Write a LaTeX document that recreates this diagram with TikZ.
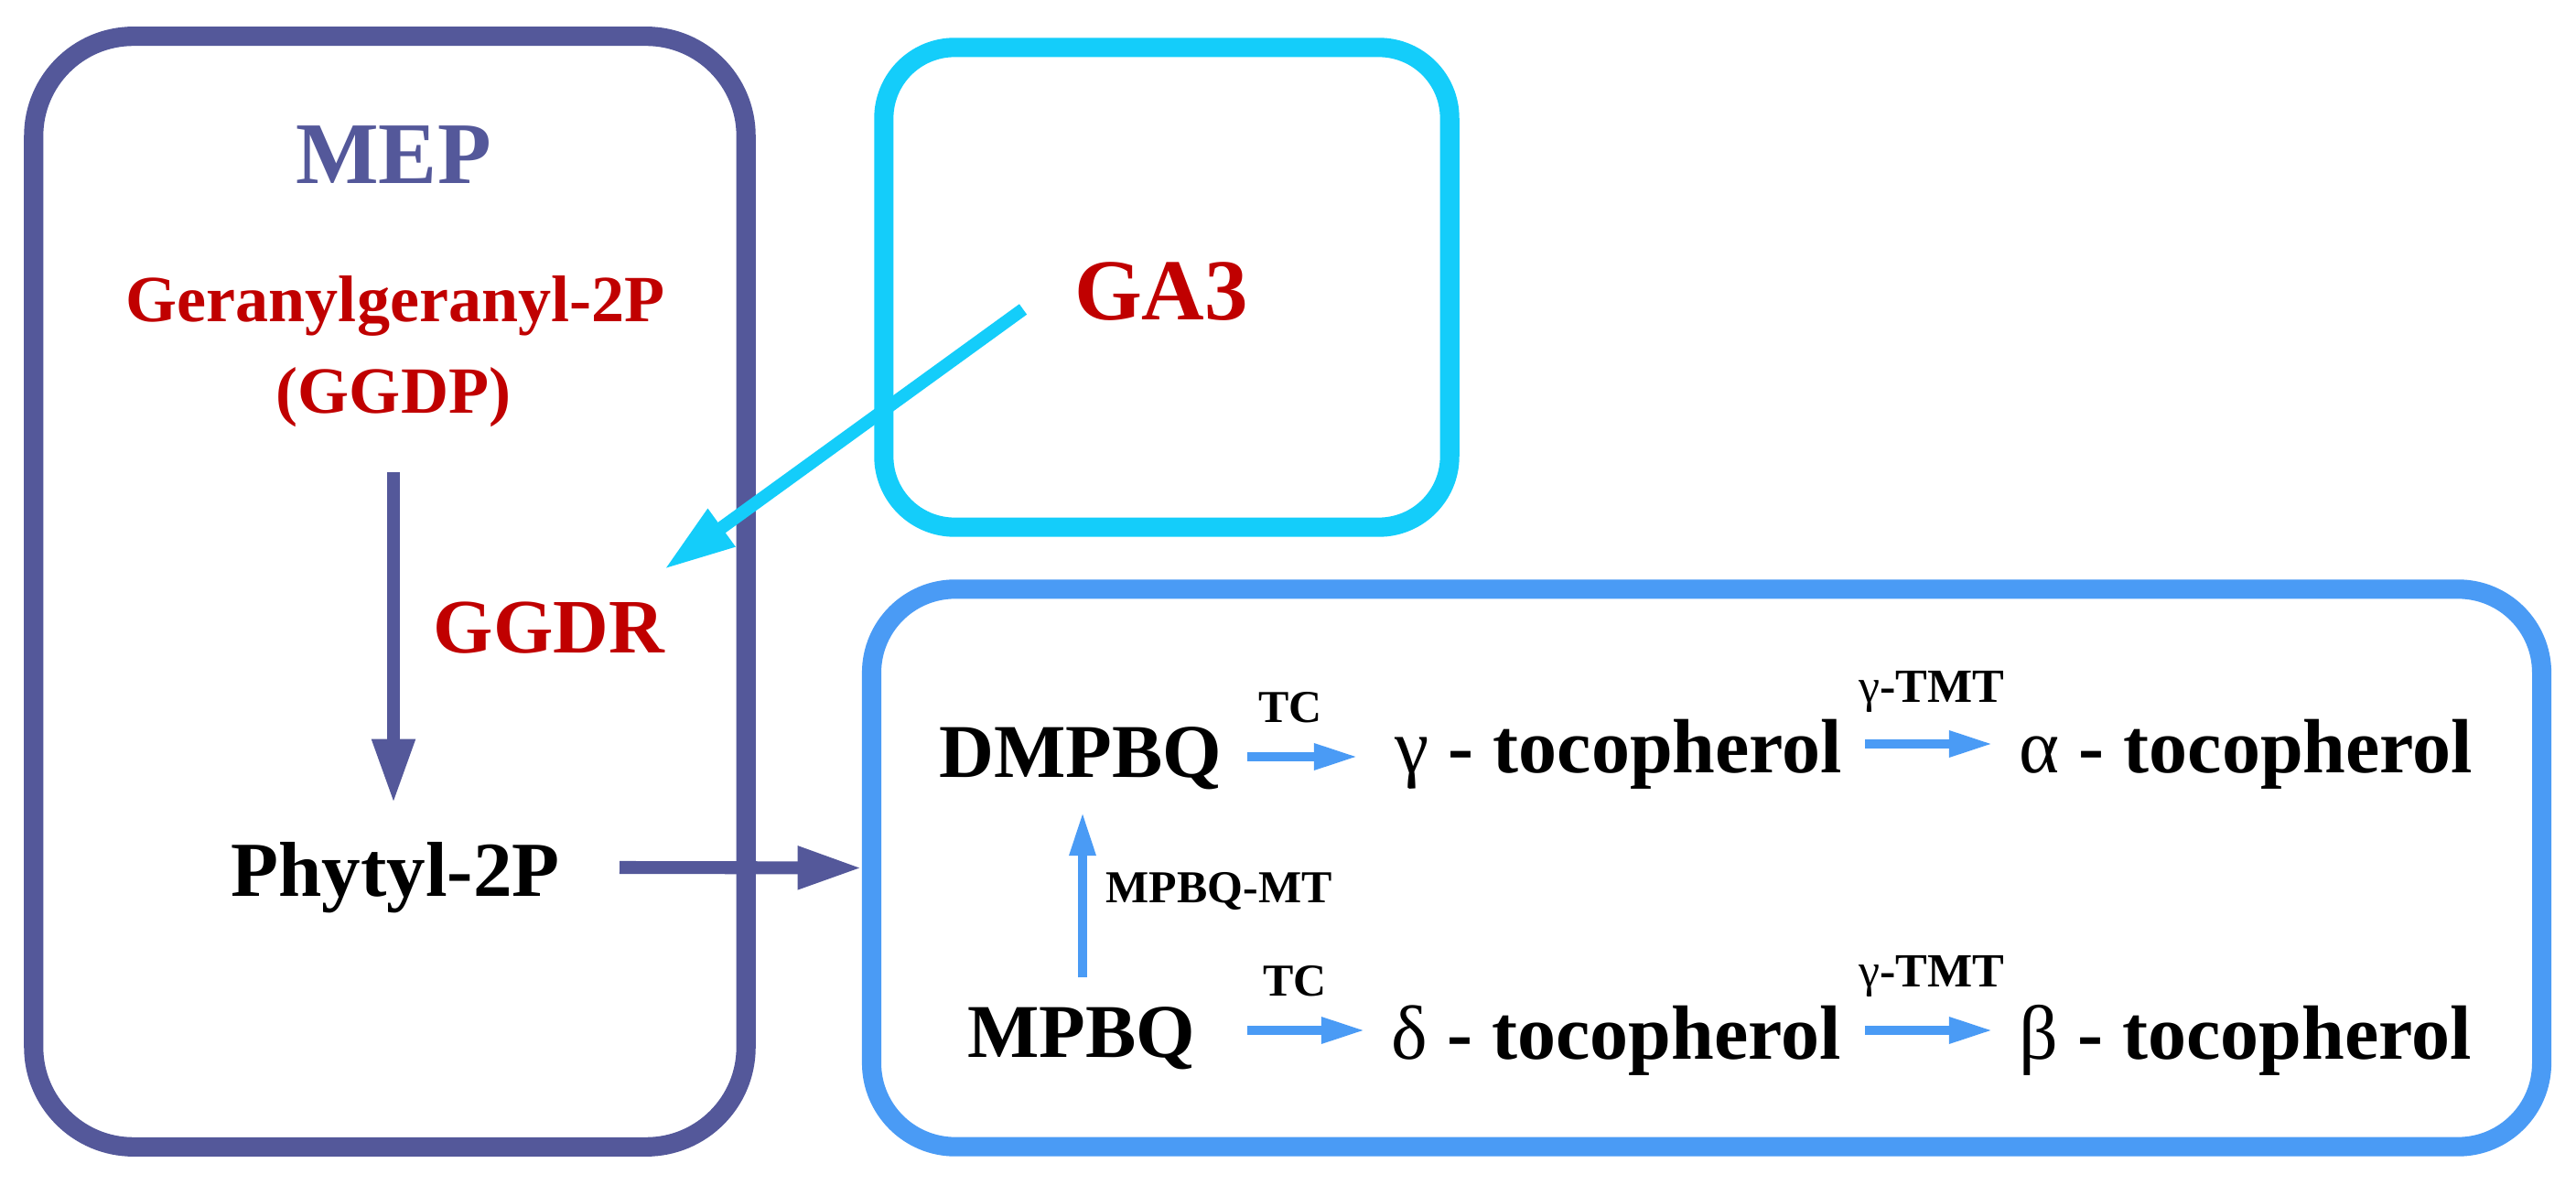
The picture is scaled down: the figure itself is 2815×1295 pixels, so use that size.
\documentclass[tikz,border=0pt]{standalone}
\usepackage{fontspec}
\setmainfont{Liberation Serif}
\usetikzlibrary{arrows.meta}
\definecolor{mepc}{RGB}{84,88,154}
\definecolor{dred}{RGB}{192,0,0}
\definecolor{cyanb}{RGB}{20,205,250}
\definecolor{tocob}{RGB}{74,155,245}
\begin{document}
\begin{tikzpicture}[x=0.01cm,y=-0.01cm,
  boxst/.style={draw, line width=6pt, inner sep=0pt, fill=none},
  txt/.style={inner sep=0pt, anchor=base},
  fs/.style={font=\fontsize{#1}{#1}\selectfont\bfseries},
  marr/.style={draw=mepc, line width=4pt, -{Triangle[length=20pt,width=12.5pt]}},
  carr/.style={draw=cyanb, line width=4pt, -{Triangle[length=22pt,width=13.5pt]}},
  tarr/.style={draw=tocob, line width=2.8pt, -{Triangle[length=13.7pt,width=7.6pt]}}
]
\useasboundingbox[fill=white] (0,0) rectangle (2815,1295);

% boxes
\node[boxst, draw=mepc, rounded corners=31pt, minimum width=7.78cm, minimum height=12.13cm] (mepbox) at (426,646.5) {};
\node[boxst, draw=cyanb, rounded corners=22pt, minimum width=6.18cm, minimum height=5.24cm] (gabox) at (1275,314) {};
\node[boxst, draw=tocob, rounded corners=26pt, minimum width=18.24cm, minimum height=6.09cm] (tocobox) at (1865,948.5) {};

% MEP box texts
\node[txt, fs=27.3pt, text=mepc] (mep) at (430,201) {MEP};
\node[txt, fs=20.5pt, text=dred] (ggpp) at (432,352) {Geranylgeranyl-2P};
\node[txt, fs=20.5pt, text=dred] (ggdp) at (430,452) {(GGDP)};
\node[txt, fs=23.9pt, text=dred] (ggdr) at (600,714) {GGDR};
\node[txt, fs=24.2pt] (phy) at (432,979) {Phytyl-2P};
\node[txt, fs=27pt, text=dred] (ga3) at (1269,350) {GA3};

% tocopherol box texts
\node[txt, fs=23.6pt] (dmpbq) at (1181,850) {DMPBQ};
\node[txt, fs=23.6pt] (mpbq) at (1182,1155) {MPBQ};
\node[txt, fs=23.9pt, anchor=base west] (gtoc) at (1524,845) {{\mdseries γ} - tocopherol};
\node[txt, fs=23.9pt, anchor=base west] (dtoc) at (1520,1157) {{\mdseries δ} - tocopherol};
\node[txt, fs=23.9pt, anchor=base west] (atoc) at (2206,845) {{\mdseries α} - tocopherol};
\node[txt, fs=23.9pt, anchor=base west] (btoc) at (2206,1157) {{\mdseries β} - tocopherol};
\node[txt, fs=14.2pt] (tc1) at (1410,790) {TC};
\node[txt, fs=14.2pt] (tc2) at (1415,1088) {TC};
\node[txt, fs=14.8pt] (tmt1) at (2111,768) {{\mdseries γ}-TMT};
\node[txt, fs=14.8pt] (tmt2) at (2111,1078) {{\mdseries γ}-TMT};
\node[txt, fs=14.2pt, anchor=base west] (mt) at (1208,987) {MPBQ-MT};

% arrow end points
\coordinate (v1a) at (430,516);
\coordinate (v1b) at (430,878);
\coordinate (p1) at (677,948);
\coordinate (c1a) at (1118,338);
\coordinate (c1b) at (726,622);
\coordinate (t1a) at (1363,827);
\coordinate (t1b) at (1484,827);
\coordinate (t2a) at (1363,1126);
\coordinate (t2b) at (1492,1126);
\coordinate (m1a) at (2038,813);
\coordinate (m1b) at (2178,813);
\coordinate (m2a) at (2038,1126);
\coordinate (m2b) at (2178,1126);
\coordinate (u1a) at (1183,1068);
\coordinate (u1b) at (1183,887);

% connectors
\draw[marr] (v1a) -- (v1b);
\draw[marr] (p1) -- (tocobox.west);
\draw[carr] (c1a) -- (c1b);
\draw[tarr] (t1a) -- (t1b);
\draw[tarr] (t2a) -- (t2b);
\draw[tarr] (m1a) -- (m1b);
\draw[tarr] (m2a) -- (m2b);
\draw[tarr] (u1a) -- (u1b);
\end{tikzpicture}
\end{document}
